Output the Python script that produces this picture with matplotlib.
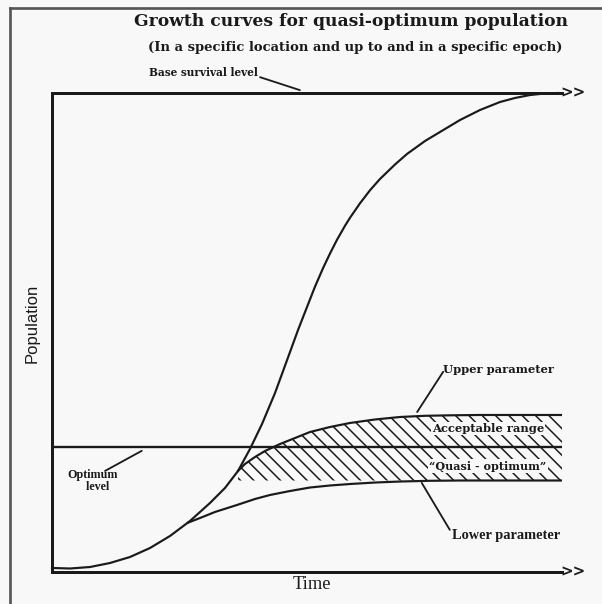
import matplotlib
matplotlib.use('Agg')
import matplotlib.pyplot as plt
from matplotlib.lines import Line2D

# Values (time 0-100, population 0-100)
base_level = 100.0
optimum_level = 26.1
hatch_floor = 19.1
time_end = 100.0

# S-shaped growth curve
s_time = [0, 3.53, 7.45, 11.37, 15.29, 19.22, 23.14, 27.06, 30.98, 33.92,
          36.47, 38.82, 41.18, 43.73, 46.67, 48.24, 50.0, 51.57, 53.14,
          54.51, 55.88, 57.45, 58.43, 60.39, 62.35, 64.31, 67.25, 69.61,
          73.14, 76.08, 80.0, 83.92, 87.84, 90.78, 93.73, 96.67, 99.22]
s_pop = [0.84, 0.73, 1.04, 1.88, 3.13, 5.01, 7.52, 10.65, 14.41, 17.54,
         21.09, 25.68, 30.9, 37.37, 45.93, 50.52, 55.32, 59.58, 63.42,
         66.49, 69.35, 72.28, 73.95, 76.97, 79.69, 82.05, 85.07, 87.27,
         89.98, 91.86, 94.36, 96.45, 98.12, 98.96, 99.58, 99.9, 100.0]

# upper parameter curve
up_time = [36.47, 37.84, 39.8, 41.76, 44.71, 47.65, 50.59, 54.51, 58.43,
           63.33, 68.24, 73.14, 78.04, 83.92, 100.0]
up_pop = [21.1, 22.55, 24.01, 25.26, 26.72, 27.97, 29.23, 30.27, 31.11,
          31.84, 32.36, 32.61, 32.71, 32.78, 32.78]

# lower parameter curve
low_time = [26.67, 29.02, 31.96, 36.27, 39.8, 42.75, 46.67, 50.59, 54.51,
            58.43, 63.33, 68.24, 74.12, 80.0, 100.0]
low_pop = [10.3, 11.27, 12.53, 13.99, 15.24, 16.08, 16.91, 17.64, 18.06,
           18.37, 18.68, 18.89, 19.04, 19.1, 19.1]

bg = '#f8f8f8'
ink = '#1a1a1a'
plt.rcParams['hatch.linewidth'] = 0.9
plt.rcParams['hatch.color'] = ink

fig = plt.figure(figsize=(602 / 120, 604 / 120), dpi=120, facecolor=bg)
ax = fig.add_axes([52 / 602, 32 / 604, 510 / 602, 479 / 604])
ax.set_facecolor(bg)
ax.set_xlim(0, time_end)
ax.set_ylim(0, base_level)
ax.set_xticks([])
ax.set_yticks([])
for side in ['top', 'right']:
    ax.spines[side].set_visible(False)
for side in ['left', 'bottom']:
    ax.spines[side].set_linewidth(1.8)
    ax.spines[side].set_color(ink)

# outer frame (left and top only)
fig.add_artist(Line2D([10 / 602, 10 / 602], [0, 1 - 8 / 604], color='#555555', lw=1.6))
fig.add_artist(Line2D([10 / 602, 1], [1 - 8 / 604, 1 - 8 / 604], color='#555555', lw=1.6))

# levels
ax.plot([0, time_end], [base_level, base_level], color=ink, lw=1.8, clip_on=False)
ax.plot([0, time_end], [optimum_level, optimum_level], color=ink, lw=1.4)

# hatched acceptable range
ax.fill_between(up_time, hatch_floor, up_pop, facecolor='none', edgecolor=ink,
                linewidth=0, hatch='\\\\\\')
ax.plot(up_time, up_pop, color=ink, lw=1.3)
ax.plot(low_time, low_pop, color=ink, lw=1.3)
ax.plot(s_time, s_pop, color=ink, lw=1.3, clip_on=False)

# arrow heads
for yv in [base_level, 0]:
    ax.text(time_end - 0.3, yv, '>>', ha='left', va='center', fontsize=9,
            fontweight='bold', color=ink, clip_on=False)

serif_b = dict(family='DejaVu Serif', fontweight='bold', color=ink)
lib_b = dict(family='Liberation Serif', fontweight='bold', color=ink)

fig.text(351 / 602, 1 - 22 / 604, 'Growth curves for quasi-optimum population',
         ha='center', va='center', fontsize=10.3, **serif_b)
fig.text(355 / 602, 1 - 47 / 604,
         '(In a specific location and up to and in a specific epoch)',
         ha='center', va='center', fontsize=7.9, **serif_b)

ax.text(29.6, 104.2, 'Base survival level', ha='center', va='center',
        fontsize=6.3, clip_on=False, **serif_b)
ax.text(8.0, 19.0, 'Optimum\n   level', ha='center', va='center',
        fontsize=7.2, linespacing=1.0, **lib_b)
ax.text(87.6, 42.2, 'Upper parameter', ha='center', va='center',
        fontsize=6.9, **serif_b)
box = dict(boxstyle='square,pad=0.1', facecolor=bg, edgecolor='none')
ax.text(85.5, 29.9, 'Acceptable range', ha='center', va='center',
        fontsize=6.9, bbox=box, **serif_b)
ax.text(85.5, 22.1, '\u201cQuasi - optimum\u201d', ha='center', va='center',
        fontsize=6.7, bbox=box, **serif_b)
ax.text(89.0, 7.7, 'Lower parameter', ha='center', va='center',
        fontsize=8.6, **lib_b)
ax.text(51.0, -2.6, 'Time', ha='center', va='center', fontsize=11,
        family='Liberation Serif', color=ink, clip_on=False)
ax.text(-3.9, 52.0, 'Population', ha='center', va='center', rotation=90,
        fontsize=10, family='Liberation Sans', color=ink, clip_on=False)

# leader lines
leaders = [((40.8, 103.3), (48.6, 100.6)),
           ((10.4, 21.1), (17.6, 25.3)),
           ((76.7, 41.8), (71.6, 33.4)),
           ((72.5, 18.6), (78.0, 8.8))]
for p0, p1 in leaders:
    ax.annotate('', xy=p1, xytext=p0, annotation_clip=False,
                arrowprops=dict(arrowstyle='-', color=ink, lw=1.1,
                                shrinkA=0, shrinkB=0))

fig.savefig('out.png', dpi=120, facecolor=bg)
